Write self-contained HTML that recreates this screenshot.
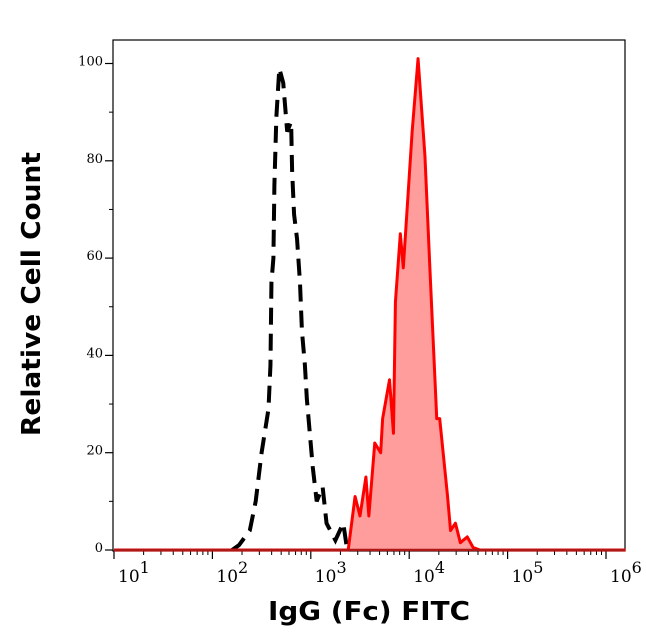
<!DOCTYPE html>
<html><head><meta charset="utf-8"><style>
body{margin:0;background:#fff;width:646px;height:641px;overflow:hidden}
svg{display:block}
</style></head><body>
<svg id="chart" width="646" height="641" xmlns="http://www.w3.org/2000/svg">
<rect x="113" y="40" width="512" height="511" fill="none" stroke="#000" stroke-width="1.2"/>
<g id="ticks"></g>
<g id="series"></g>
<text transform="translate(40,294) rotate(-90)" text-anchor="middle" font-family="DejaVu Sans, sans-serif" font-weight="bold" font-size="26" textLength="284" lengthAdjust="spacingAndGlyphs">Relative Cell Count</text>
<text x="369" y="620" text-anchor="middle" font-family="DejaVu Sans, sans-serif" font-weight="bold" font-size="26" textLength="202" lengthAdjust="spacingAndGlyphs">IgG (Fc) FITC</text>
</svg>
<script>
const yTicks=[0,20,40,60,80,100];
const xDecades=[1,2,3,4,5,6];
const isoLog=[2.20,2.27,2.38,2.44,2.50,2.57,2.59,2.60,2.62,2.63,2.65,2.68,2.72,2.76,2.80,2.81,2.83,2.86,2.89,2.91,2.94,2.96,2.99,3.02,3.06,3.12,3.16,3.25,3.33,3.37];
const isoCount=[0,1,4,10,20,29,38,55,60,75,89,99,96,86,88,78,69,64,55,45,38,31,24,17,10,13,5.5,2,5.5,0];
const stainLog=[1.0,3.38,3.45,3.50,3.56,3.59,3.65,3.71,3.73,3.80,3.84,3.86,3.91,3.94,4.03,4.09,4.16,4.21,4.28,4.31,4.33,4.39,4.42,4.47,4.52,4.59,4.65,4.72,6.2];
const stainCount=[0,0,11,7,15,7,22,20,27,35,24,51,65,58,86,101,81,58,27,27,23,11,4,5.5,1.5,2.7,0.5,0,0];
const NS='http://www.w3.org/2000/svg';
const X=l=>114+98.4*(l-1);
const Y=v=>550-4.865*v;
const tg=document.getElementById('ticks'), sg=document.getElementById('series');
function mk(t,a,p){const e=document.createElementNS(NS,t);for(const k in a)e.setAttribute(k,a[k]);p.appendChild(e);return e;}
yTicks.forEach(v=>{
  const t=mk('line',{x1:105,x2:113,y1:Y(v),y2:Y(v),stroke:'#000','stroke-width':1.2},tg);
  
  
  const lb=mk('text',{x:103,y:Y(v)+2,'text-anchor':'end','font-family':'DejaVu Serif, serif','font-size':13},tg);
  lb.textContent=v;
  
  
  if(v<100){const m=mk('line',{x1:109,x2:113,y1:Y(v+10),y2:Y(v+10),stroke:'#000'},tg);
  
  }
});
xDecades.forEach(d=>{
  const t=mk('line',{x1:X(d),x2:X(d),y1:551,y2:559,stroke:'#000','stroke-width':1.2},tg);
  
  
  const lb=mk('text',{x:X(d)+4,y:582,'font-family':'DejaVu Serif, serif','font-size':17},tg);
  lb.innerHTML='10<tspan dy="-9" font-size="16">'+d+'</tspan>';
  
  
  for(let k=2;k<10;k++){const l=d+Math.log10(k);if(X(l)>625)break;
    const m=mk('line',{x1:X(l),x2:X(l),y1:551,y2:555,stroke:'#000'},tg);
    
    }
});
let sp=stainLog.map((l,i)=>X(l)+','+Y(stainCount[i])).join(' ');
const fill=mk('polygon',{points:sp,fill:'#ff9c9c',stroke:'none'},sg);


const iso=mk('polyline',{points:isoLog.map((l,i)=>X(l)+','+Y(isoCount[i])).join(' '),fill:'none',stroke:'#000','stroke-width':4,'stroke-dasharray':'17,9'},sg);


const st=mk('polyline',{points:sp,fill:'none',stroke:'#f00','stroke-width':3,'stroke-linejoin':'round'},sg);


const base=mk('line',{x1:114,x2:625,y1:Y(0),y2:Y(0),stroke:'#b01818',"stroke-width":2.5},sg);


</script>
</body></html>
